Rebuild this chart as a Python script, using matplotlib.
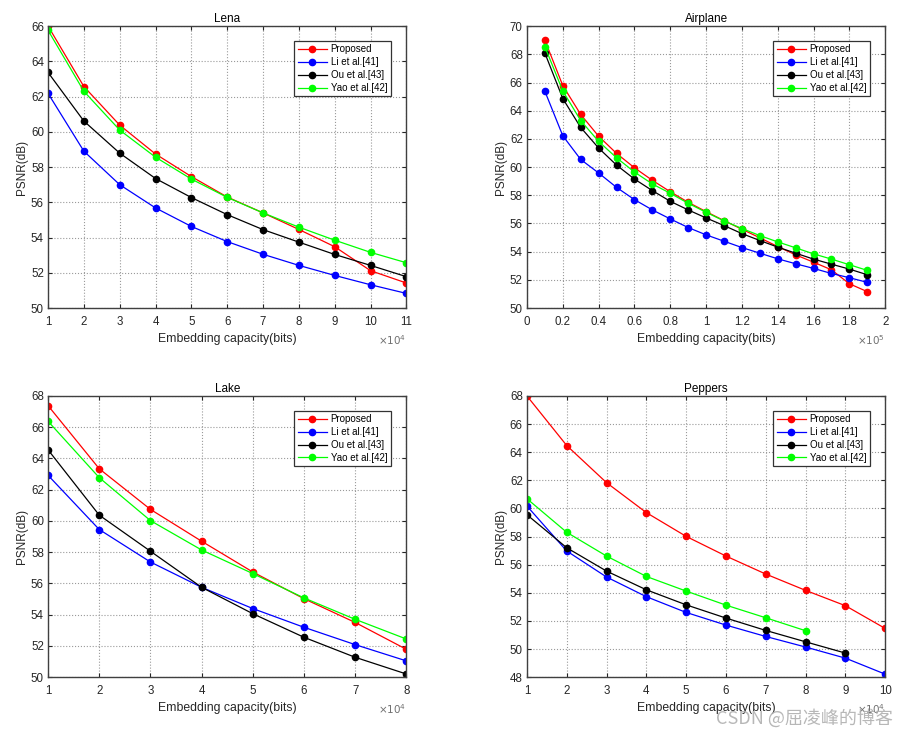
import numpy as np
import matplotlib.pyplot as plt

plt.rcParams['font.family'] = ['Liberation Sans', 'DejaVu Sans']

labels = ["Proposed", "Li et al.[41]", "Ou et al.[43]", "Yao et al.[42]"]
colors = ["#ff0000", "#0000ff", "#000000", "#00ff00"]

# Lena, capacity in units of 1e4 bits
lena_x = [1, 2, 3, 4, 5, 6, 7, 8, 9, 10, 11]
lena_prop = [66.0, 62.57, 60.38, 58.74, 57.46, 56.3, 55.4, 54.46, 53.48, 52.12, 51.42]
lena_li = [62.18, 58.9, 57.0, 55.68, 54.63, 53.77, 53.05, 52.42, 51.85, 51.32, 50.83]
lena_ou = [63.37, 60.61, 58.79, 57.35, 56.27, 55.3, 54.45, 53.74, 53.04, 52.42, 51.78]
lena_yao = [65.76, 62.3, 60.1, 58.56, 57.32, 56.28, 55.4, 54.59, 53.85, 53.16, 52.57]

# Airplane, capacity in units of 1e5 bits
air_x = [0.1, 0.2, 0.3, 0.4, 0.5, 0.6, 0.7, 0.8, 0.9, 1.0,
         1.1, 1.2, 1.3, 1.4, 1.5, 1.6, 1.7, 1.8, 1.9]
air_prop = [69.0, 65.78, 63.73, 62.19, 60.97, 59.95, 59.06, 58.25, 57.5, 56.84,
            56.2, 55.59, 54.98, 54.36, 53.77, 53.25, 52.71, 51.72, 51.16]
air_li = [65.38, 62.22, 60.54, 59.58, 58.56, 57.69, 56.96, 56.32, 55.71, 55.19,
          54.74, 54.29, 53.89, 53.49, 53.14, 52.81, 52.45, 52.15, 51.82]
air_ou = [68.09, 64.86, 62.81, 61.35, 60.14, 59.15, 58.33, 57.57, 56.96, 56.39,
          55.85, 55.28, 54.79, 54.32, 53.89, 53.47, 53.11, 52.76, 52.36]
air_yao = [68.54, 65.4, 63.3, 61.82, 60.66, 59.65, 58.8, 58.14, 57.43, 56.79,
           56.18, 55.64, 55.14, 54.69, 54.27, 53.84, 53.47, 53.07, 52.67]

# Lake, capacity in units of 1e4 bits
lake_x = [1, 2, 3, 4, 5, 6, 7, 8]
lake_prop = [67.38, 63.34, 60.74, 58.7, 56.73, 55.02, 53.5, 51.78]
lake_li = [62.92, 59.45, 57.37, 55.75, 54.39, 53.19, 52.08, 51.04]
lake_ou = [64.55, 60.37, 58.06, 55.75, 54.06, 52.55, 51.27, 50.2]
lake_yao = [66.38, 62.77, 60.02, 58.14, 56.63, 55.07, 53.7, 52.44]

# Peppers, capacity in units of 1e4 bits
pep_x = [1, 2, 3, 4, 5, 6, 7, 8, 9, 10]
pep_prop = [68.0, 64.47, 61.83, 59.7, 58.01, 56.61, 55.33, 54.17, 53.08, 51.46]
pep_li = [60.17, 56.97, 55.12, 53.72, 52.6, 51.7, 50.89, 50.14, 49.35, 48.21]
pep_ou = [59.55, 57.2, 55.54, 54.21, 53.14, 52.2, 51.32, 50.51, 49.71]
pep_yao = [60.69, 58.3, 56.61, 55.16, 54.12, 53.12, 52.22, 51.3]

fig = plt.figure(figsize=(9.07, 7.36), dpi=100)

txt = '#262626'


def panel(rect, title, x, series, xlim, xticks, ylim, yticks, xtl, exp):
    ax = fig.add_axes(rect)
    for i in range(4):
        s = series[i]
        ax.plot(x[:len(s)], s, color=colors[i], marker='o', markersize=4.5,
                linewidth=0.9, label=labels[i])
    ax.set_xlim(xlim)
    ax.set_ylim(ylim)
    ax.set_xticks(xticks)
    ax.set_xticklabels(xtl)
    ax.set_yticks(yticks)
    ax.grid(True, linestyle=':', color='#9a9a9a', linewidth=0.8)
    ax.tick_params(direction='in', length=3, labelsize=8.3, colors=txt,
                   top=True, right=True)
    ax.tick_params(axis='x', pad=6)
    ax.tick_params(axis='y', pad=3)
    for sp in ax.spines.values():
        sp.set_color('#404040')
        sp.set_linewidth(1.0)
    ax.set_title(title, fontsize=8.5, color='black', pad=3)
    ax.set_xlabel("Embedding capacity(bits)", fontsize=8.8, color=txt, labelpad=3)
    ax.set_ylabel("PSNR(dB)", fontsize=8.5, color=txt, labelpad=2)
    leg = ax.legend(loc='upper right', fontsize=7, fancybox=False,
                    edgecolor='#333333', framealpha=1, borderpad=0.35,
                    labelspacing=0.3, handlelength=3.0, handletextpad=0.4,
                    bbox_to_anchor=(0.97, 0.965))
    leg.get_frame().set_linewidth(0.9)
    ax.text(1.0, -0.115, r'$\times10^{%d}$' % exp, transform=ax.transAxes,
            ha='right', va='center', fontsize=7.5, color='#707070')
    return ax


L, R = 0.053, 0.581
W, H = 0.395, 0.383

panel([L, 0.5815, W, H], "Lena",
      lena_x, [lena_prop, lena_li, lena_ou, lena_yao],
      (1, 11), lena_x, (50, 66), np.arange(50, 67, 2),
      [str(v) for v in lena_x], 4)

panel([R, 0.5815, W, H], "Airplane",
      air_x, [air_prop, air_li, air_ou, air_yao],
      (0, 2), np.arange(0, 2.01, 0.2), (50, 70), np.arange(50, 71, 2),
      ['0', '0.2', '0.4', '0.6', '0.8', '1', '1.2', '1.4', '1.6', '1.8', '2'], 5)

panel([L, 0.080, W, 0.382], "Lake",
      lake_x, [lake_prop, lake_li, lake_ou, lake_yao],
      (1, 8), lake_x, (50, 68), np.arange(50, 69, 2),
      [str(v) for v in lake_x], 4)

panel([R, 0.080, W, 0.382], "Peppers",
      pep_x, [pep_prop, pep_li, pep_ou, pep_yao],
      (1, 10), pep_x, (48, 68), np.arange(48, 69, 2),
      [str(v) for v in pep_x], 4)

fig.text(0.984, 0.024, "CSDN @屈凌峰的博客", ha='right', va='center',
         fontsize=13, color='#b0b0b0', alpha=0.9,
         family=['Noto Sans CJK SC', 'DejaVu Sans'])

fig.savefig("out.png", dpi=100)
